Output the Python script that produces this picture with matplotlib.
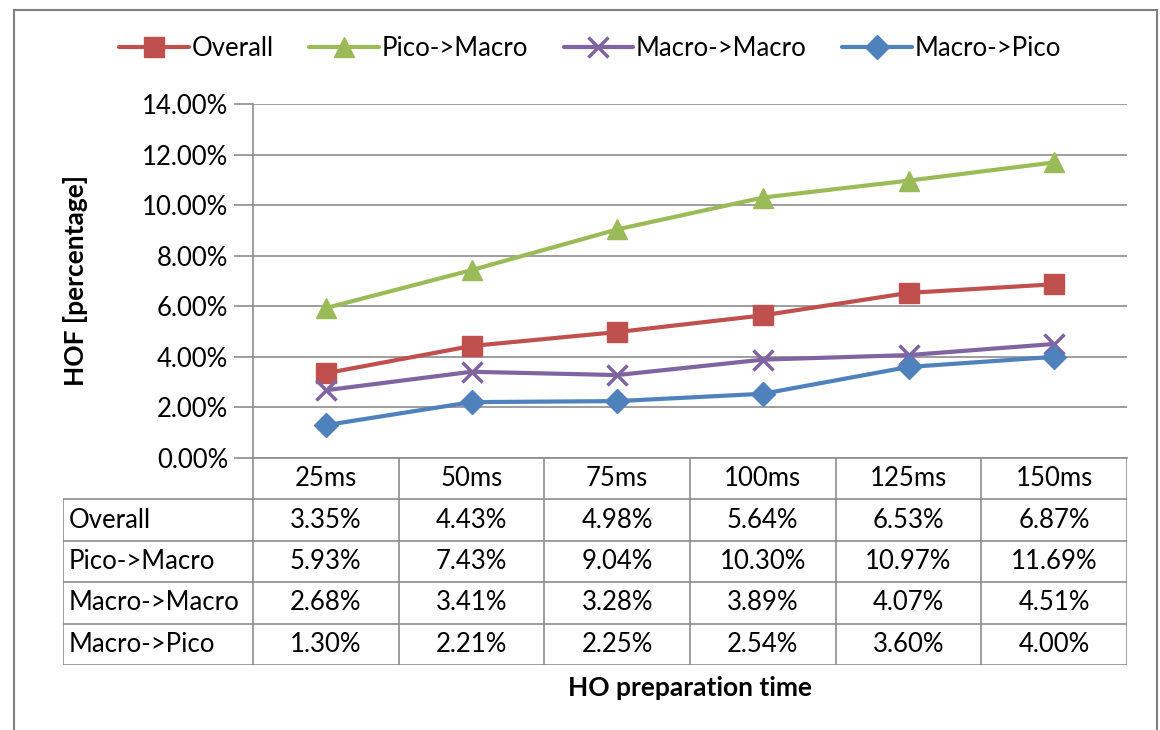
import matplotlib
matplotlib.use("Agg")
import matplotlib.pyplot as plt
from matplotlib.patches import Rectangle
from matplotlib.ticker import FuncFormatter

plt.rcParams['font.family'] = ['Lato', 'DejaVu Sans']

times = ['25ms', '50ms', '75ms', '100ms', '125ms', '150ms']
series_names = ['Overall', 'Pico->Macro', 'Macro->Macro', 'Macro->Pico']
overall = [3.35, 4.43, 4.98, 5.64, 6.53, 6.87]
pico_macro = [5.93, 7.43, 9.04, 10.30, 10.97, 11.69]
macro_macro = [2.68, 3.41, 3.28, 3.89, 4.07, 4.51]
macro_pico = [1.30, 2.21, 2.25, 2.54, 3.60, 4.00]
y_ticks = [0, 2, 4, 6, 8, 10, 12, 14]

values = [overall, pico_macro, macro_macro, macro_pico]
colors = ['#C0504D', '#9BBB59', '#8064A2', '#4F81BD']
markers = ['s', '^', 'x', 'D']
msizes = [14, 15, 14, 12]

W, H = 1160, 730
fig = plt.figure(figsize=(W / 100, H / 100), dpi=100)
grid_c = '#8c8c8c'
fs = 18.5
bfs = 19

def fx(px):
    return px / W

def fy(py):
    return 1 - py / H

# plot area in pixel terms
left, right, top, bottom = 253, 1127, 104, 458
ax = fig.add_axes([fx(left), fy(bottom), fx(right - left), (bottom - top) / H])
xs = list(range(len(times)))
for vals, name, c, m, ms in zip(values, series_names, colors, markers, msizes):
    ax.plot(xs, vals, color=c, lw=3, marker=m, ms=ms, mew=2.5 if m == 'x' else 1,
            mec=c, mfc=c, label=name, solid_capstyle='round')

ax.set_xlim(-0.5, len(times) - 0.5)
ax.set_ylim(0, 14)
ax.set_yticks(y_ticks)
ax.yaxis.set_major_formatter(FuncFormatter(lambda v, p: f'{v:.2f}%'))
ax.yaxis.grid(True, color=grid_c, lw=1.2)
ax.set_axisbelow(True)
ax.set_xticks([])
for s in ['top', 'right']:
    ax.spines[s].set_visible(False)
ax.spines['left'].set_color(grid_c)
ax.spines['bottom'].set_color(grid_c)
ax.spines['left'].set_linewidth(1.2)
ax.spines['bottom'].set_linewidth(1.2)
ax.tick_params(axis='y', length=14, color=grid_c, width=1.2, labelsize=fs, pad=4)

# data table under the plot
tab_left, tab_bottom = 63, 665
label_w = (left - tab_left) / ((right - left) / len(times))
tax = fig.add_axes([fx(tab_left), fy(tab_bottom), fx(right - tab_left), (tab_bottom - bottom) / H])
x0 = -0.5 - label_w
tax.set_xlim(x0, len(times) - 0.5)
nrows = len(series_names) + 1
tax.set_ylim(nrows, 0)
tax.axis('off')
lc = dict(color=grid_c, lw=1.2)
for i in range(len(times) + 1):
    tax.plot([i - 0.5, i - 0.5], [0, nrows], **lc)
tax.plot([x0, x0], [1, nrows], **lc)
for r in range(1, nrows + 1):
    tax.plot([x0, len(times) - 0.5], [r, r], **lc)
for i, t in enumerate(times):
    tax.text(i, 0.5, t, ha='center', va='center', fontsize=fs)
for r, (name, vals) in enumerate(zip(series_names, values), start=1):
    tax.text(x0 + 0.04, r + 0.5, name, ha='left', va='center', fontsize=fs)
    for i, v in enumerate(vals):
        tax.text(i, r + 0.5, f'{v:.2f}%', ha='center', va='center', fontsize=fs)

fig.text(fx((left + right) / 2), fy(688), 'HO preparation time', ha='center', va='center',
         fontsize=bfs, fontweight='bold')
fig.text(fx(75), fy(281), 'HOF [percentage]', ha='center', va='center', rotation=90,
         fontsize=bfs, fontweight='bold')

fig.legend(loc='center', bbox_to_anchor=(fx(590), fy(48)), ncol=4, frameon=False,
           fontsize=fs, handlelength=2.7, columnspacing=1.4, handletextpad=0.1)

# chart border
fig.patches.append(Rectangle((fx(14), fy(760)), fx(1157 - 14), (760 - 10) / H,
                             transform=fig.transFigure, fill=False, ec='#7f7f7f', lw=1.5))

fig.savefig('out.png', dpi=100)
